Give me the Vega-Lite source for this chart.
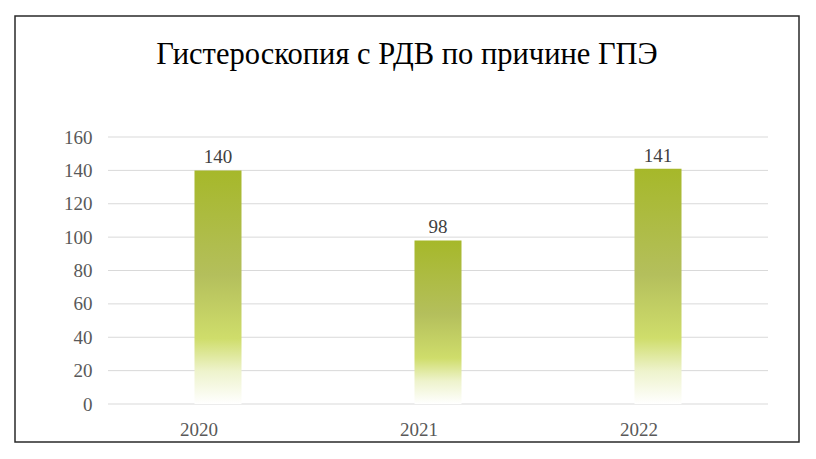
{
  "$schema": "https://vega.github.io/schema/vega-lite/v6.json",
  "autosize": "none",
  "width": 784,
  "height": 426,
  "padding": {"left": 15, "top": 16, "right": 17, "bottom": 17},
  "background": "#ffffff",
  "config": {
    "view": {"stroke": "#2a2a2a", "strokeWidth": 1.5},
    "font": "'Liberation Serif', serif"
  },
  "title": {
    "text": "Гистероскопия с РДВ по причине ГПЭ",
    "font": "'Liberation Serif', serif",
    "fontSize": 30.5,
    "fontWeight": "normal",
    "color": "#000000",
    "anchor": "middle",
    "baseline": "top",
    "offset": -54
  },
  "datasets": {
    "bars": [
      {"year": "2020", "value": 140},
      {"year": "2021", "value": 98},
      {"year": "2022", "value": 141}
    ],
    "grid": [
      {"g": 0}, {"g": 20}, {"g": 40}, {"g": 60}, {"g": 80},
      {"g": 100}, {"g": 120}, {"g": 140}, {"g": 160}
    ]
  },
  "layer": [
    {
      "data": {"name": "grid"},
      "mark": {"type": "rule", "color": "#d9d9d9", "strokeWidth": 1},
      "encoding": {
        "y": {"field": "g", "type": "quantitative", "scale": {"domain": [-22.77, 232.51], "nice": false, "zero": false},
          "axis": {"values": [0, 20, 40, 60, 80, 100, 120, 140, 160], "grid": false, "domain": false, "ticks": false, "title": null,
            "offset": -85, "labelPadding": 8, "labelFont": "'Liberation Serif', serif", "labelFontSize": 19, "labelColor": "#595959"}},
        "x": {"datum": "2020", "bandPosition": 0},
        "x2": {"datum": "2022", "bandPosition": 1}
      }
    },
    {
      "data": {"name": "bars"},
      "mark": {
        "type": "bar",
        "width": 47,
        "color": {
          "gradient": "linear",
          "x1": 0, "y1": 0, "x2": 0, "y2": 1,
          "stops": [
            {"offset": 0, "color": "#a6b82a"},
            {"offset": 0.45, "color": "#b4bf5c"},
            {"offset": 0.72, "color": "#cfdd6b"},
            {"offset": 0.86, "color": "#eef3cc"},
            {"offset": 1, "color": "#ffffff"}
          ]
        }
      },
      "encoding": {
        "x": {"field": "year", "type": "nominal",
          "scale": {"domain": ["2020", "2021", "2022"], "paddingInner": 0, "paddingOuter": 0.2818, "align": 0.75},
          "axis": {"title": null, "labelAngle": 0, "domain": false, "ticks": false, "offset": -38,
            "labelPadding": 25, "labelFont": "'Liberation Serif', serif", "labelFontSize": 19, "labelColor": "#595959"}},
        "y": {"field": "value", "type": "quantitative"}
      }
    },
    {
      "data": {"name": "bars"},
      "mark": {"type": "text", "baseline": "bottom", "dy": -3, "font": "'Liberation Serif', serif", "fontSize": 19, "color": "#404040"},
      "encoding": {
        "x": {"field": "year", "type": "nominal"},
        "y": {"field": "value", "type": "quantitative"},
        "text": {"field": "value", "type": "quantitative"}
      }
    }
  ]
}
